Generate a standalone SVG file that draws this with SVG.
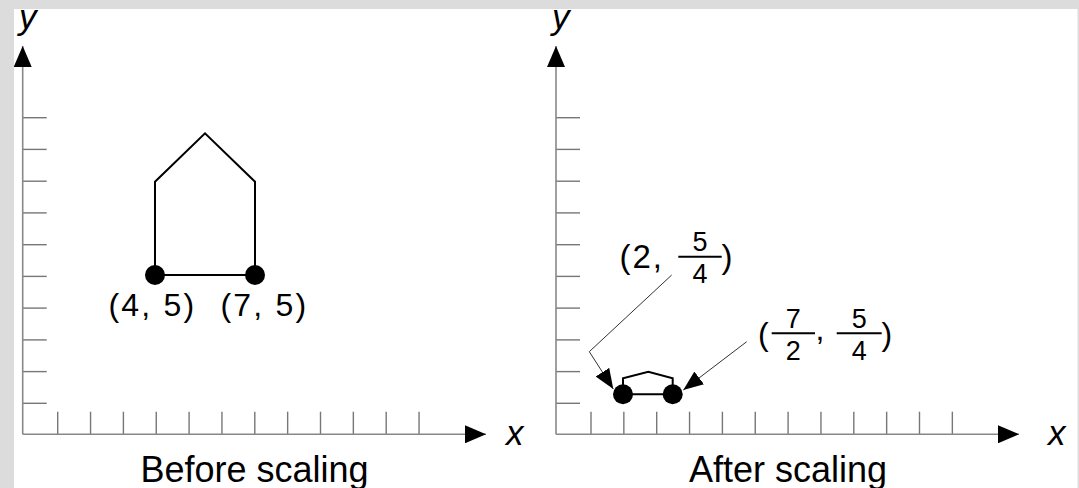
<svg xmlns="http://www.w3.org/2000/svg" width="1079" height="488" viewBox="0 0 1079 488">
<defs>
<style>
.axis{stroke:#888;stroke-width:1.6;fill:none}
.tick{stroke:#777;stroke-width:1.4;fill:none}
.shape{stroke:#000;stroke-width:2;fill:none;stroke-linejoin:miter}
.lead{stroke:#333;stroke-width:1;fill:none}
.bar{stroke:#000;stroke-width:2}
.dot{fill:#000}
.lbl{font-family:"Liberation Sans",Arial,sans-serif;fill:#000}
.ax{font-family:"Liberation Sans",Arial,sans-serif;font-style:italic;font-size:35px;fill:#000}
.title{font-family:"Liberation Sans",Arial,sans-serif;font-size:36px;fill:#000;text-anchor:middle}
</style>
<marker id="ah" viewBox="0 0 21 18" refX="21" refY="9" markerWidth="21" markerHeight="18" markerUnits="userSpaceOnUse" orient="auto">
<path d="M0,0 L21,9 L0,18 z" fill="#000"/>
</marker>
<marker id="lh" viewBox="0 0 20 16" refX="20" refY="8" markerWidth="20" markerHeight="16" markerUnits="userSpaceOnUse" orient="auto">
<path d="M0,0 L20,8 L0,16 z" fill="#000"/>
</marker>
<g id="yticks" class="tick">
<line x1="0" y1="117.7" x2="24" y2="117.7"/>
<line x1="0" y1="149.4" x2="24" y2="149.4"/>
<line x1="0" y1="181.2" x2="24" y2="181.2"/>
<line x1="0" y1="212.9" x2="24" y2="212.9"/>
<line x1="0" y1="244.7" x2="24" y2="244.7"/>
<line x1="0" y1="276.4" x2="24" y2="276.4"/>
<line x1="0" y1="308.1" x2="24" y2="308.1"/>
<line x1="0" y1="339.9" x2="24" y2="339.9"/>
<line x1="0" y1="371.6" x2="24" y2="371.6"/>
<line x1="0" y1="403.3" x2="24" y2="403.3"/>
</g>
<g id="xticks" class="tick">
<line x1="35" y1="411.7" x2="35" y2="434.3"/>
<line x1="67.85" y1="411.7" x2="67.85" y2="434.3"/>
<line x1="100.7" y1="411.7" x2="100.7" y2="434.3"/>
<line x1="133.55" y1="411.7" x2="133.55" y2="434.3"/>
<line x1="166.4" y1="411.7" x2="166.4" y2="434.3"/>
<line x1="199.25" y1="411.7" x2="199.25" y2="434.3"/>
<line x1="232.1" y1="411.7" x2="232.1" y2="434.3"/>
<line x1="264.95" y1="411.7" x2="264.95" y2="434.3"/>
<line x1="297.8" y1="411.7" x2="297.8" y2="434.3"/>
<line x1="330.65" y1="411.7" x2="330.65" y2="434.3"/>
<line x1="363.5" y1="411.7" x2="363.5" y2="434.3"/>
<line x1="396.35" y1="411.7" x2="396.35" y2="434.3"/>
</g>
</defs>
<rect x="0" y="0" width="1079" height="488" fill="#dcdcdc"/>
<rect x="14" y="9" width="1063.5" height="479" fill="#fff"/>

<g id="left-axes">
<use href="#yticks" x="22.7"/>
<use href="#xticks" x="22.7"/>
<line class="axis" x1="22.7" y1="434.3" x2="22.7" y2="46" marker-end="url(#ah)"/>
<line class="axis" x1="22.7" y1="434.3" x2="486" y2="434.3" marker-end="url(#ah)"/>
<text class="ax" x="19" y="29">y</text>
<text class="ax" x="506" y="445">x</text>
</g>

<g id="left-house">
<polyline class="shape" points="155,275 155,181.7 205,133.3 255,181.7 255,275 155,275"/>
<circle class="dot" cx="155" cy="275" r="10"/>
<circle class="dot" cx="255" cy="275" r="10"/>
</g>
<g id="label-4-5"><text class="lbl" font-size="32" x="108.5" y="316" letter-spacing="2.2">(4, 5)</text></g>
<g id="label-7-5"><text class="lbl" font-size="32" x="220.5" y="316" letter-spacing="2.2">(7, 5)</text></g>
<g id="title-before"><text class="title" x="254.5" y="481.5">Before scaling</text></g>

<g id="right-axes">
<use href="#yticks" x="556"/>
<use href="#xticks" x="556"/>
<line class="axis" x1="556" y1="434.3" x2="556" y2="46" marker-end="url(#ah)"/>
<line class="axis" x1="556" y1="434.3" x2="1019" y2="434.3" marker-end="url(#ah)"/>
<text class="ax" x="552" y="29">y</text>
<text class="ax" x="1048" y="445">x</text>
</g>

<g id="right-house">
<polyline class="shape" points="623,394.3 623,378.3 648.3,371.7 672.7,378.3 672.7,394.3 623,394.3"/>
<circle class="dot" cx="623" cy="394.3" r="10"/>
<circle class="dot" cx="672.7" cy="394.3" r="10"/>
</g>

<g id="connectors">
<polyline class="lead" points="671.7,275 589.3,351.7 613.3,389" marker-end="url(#lh)"/>
<line class="lead" x1="746.7" y1="341.7" x2="683.3" y2="390" marker-end="url(#lh)"/>
</g>

<g id="label-2-5-4">
<text class="lbl" font-size="33" x="619.5" y="268" letter-spacing="2">(2,</text>
<line class="bar" x1="678.3" y1="256.7" x2="721.7" y2="256.7"/>
<text class="lbl" font-size="27" x="700" y="251" text-anchor="middle">5</text>
<text class="lbl" font-size="27" x="700" y="283" text-anchor="middle">4</text>
<text class="lbl" font-size="33" x="721.5" y="268">)</text>
</g>

<g id="label-7-2-5-4">
<text class="lbl" font-size="32" x="758" y="345">(</text>
<line class="bar" x1="771.7" y1="333.3" x2="815" y2="333.3"/>
<text class="lbl" font-size="27" x="793.3" y="327.6" text-anchor="middle">7</text>
<text class="lbl" font-size="27" x="793.3" y="359.6" text-anchor="middle">2</text>
<text class="lbl" font-size="32" x="815.5" y="340">,</text>
<line class="bar" x1="836.7" y1="333.3" x2="881.7" y2="333.3"/>
<text class="lbl" font-size="27" x="859.2" y="327.6" text-anchor="middle">5</text>
<text class="lbl" font-size="27" x="859.2" y="359.6" text-anchor="middle">4</text>
<text class="lbl" font-size="32" x="881.5" y="345">)</text>
</g>

<g id="title-after"><text class="title" x="788" y="481.5">After scaling</text></g>
</svg>
